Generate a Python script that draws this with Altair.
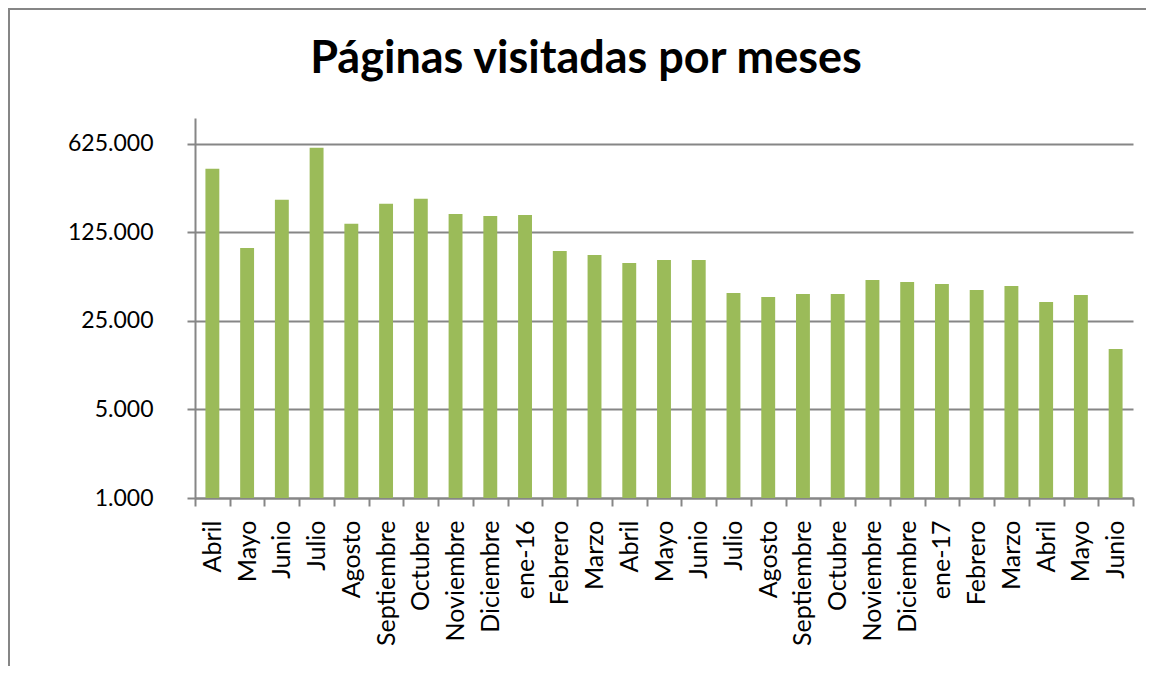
import altair as alt
import pandas as pd

months = ["Abril", "Mayo", "Junio", "Julio", "Agosto", "Septiembre", "Octubre",
          "Noviembre", "Diciembre", "ene-16", "Febrero", "Marzo", "Abril", "Mayo",
          "Junio", "Julio", "Agosto", "Septiembre", "Octubre", "Noviembre",
          "Diciembre", "ene-17", "Febrero", "Marzo", "Abril", "Mayo", "Junio"]
visits = [397000, 94300, 226000, 581000, 146000, 210000, 230000, 175000, 168700,
          171800, 89300, 83000, 71800, 75800, 75800, 41600, 38700, 40800, 40800,
          52700, 50800, 49000, 43900, 47200, 35300, 40100, 15000]
y_ticks = [1000, 5000, 25000, 125000, 625000]
title_text = "Páginas visitadas por meses"

df = pd.DataFrame({"idx": list(range(len(months))), "mes": months, "visitas": visits})

label_expr = "[" + ",".join("'" + m + "'" for m in months) + "][datum.value]"

GRAY = "#868686"

bars = alt.Chart(df).mark_bar(color="#9BBB59", width=alt.RelativeBandSize(0.4)).encode(
    x=alt.X("idx:O", title=None,
            scale=alt.Scale(paddingInner=0, paddingOuter=0),
            axis=alt.Axis(labelExpr=label_expr, labelAngle=-90, labelAlign="right",
                          labelBaseline="middle", labelFontSize=25, labelFont="Lato",
                          labelColor="#000000", tickBand="extent", tickSize=8,
                          tickColor=GRAY, tickWidth=2, domainColor=GRAY, domainWidth=2,
                          labelPadding=14, grid=False)),
    y=alt.Y("visitas:Q", title=None,
            scale=alt.Scale(type="log", base=5, domain=[1000, 1000000], nice=False),
            axis=alt.Axis(values=y_ticks,
                          labelExpr="replace(format(datum.value, ',d'), ',', '.')",
                          labelFontSize=23, labelFont="Lato", labelColor="#000000",
                          labelPadding=34, tickSize=8, tickColor=GRAY, tickWidth=2,
                          domainColor=GRAY, domainWidth=2, grid=True,
                          gridColor=GRAY, gridWidth=2)),
    y2=alt.datum(1000),
)

one = pd.DataFrame({"t": [title_text]})

top_line = alt.Chart(one).mark_rule(color=GRAY, strokeWidth=2).encode(
    x=alt.value(-187), x2=alt.value(1400), y=alt.value(-109))
left_line = alt.Chart(one).mark_rule(color=GRAY, strokeWidth=2).encode(
    x=alt.value(-186), y=alt.value(-110), y2=alt.value(900))

title = alt.Chart(one).mark_text(
    font="Lato", fontSize=45, fontWeight="bold", color="#000000",
    align="center", baseline="alphabetic"
).encode(text="t:N", x=alt.value(391), y=alt.value(-45))

chart = alt.layer(top_line, left_line, bars, title).properties(
    width=938, height=380,
    autosize=alt.AutoSizeParams(type="none"),
    padding={"left": 187, "top": 110, "right": 13, "bottom": 168},
).configure_view(stroke=None)

chart.save("out.html", embed_options={"renderer": "svg", "actions": False})
